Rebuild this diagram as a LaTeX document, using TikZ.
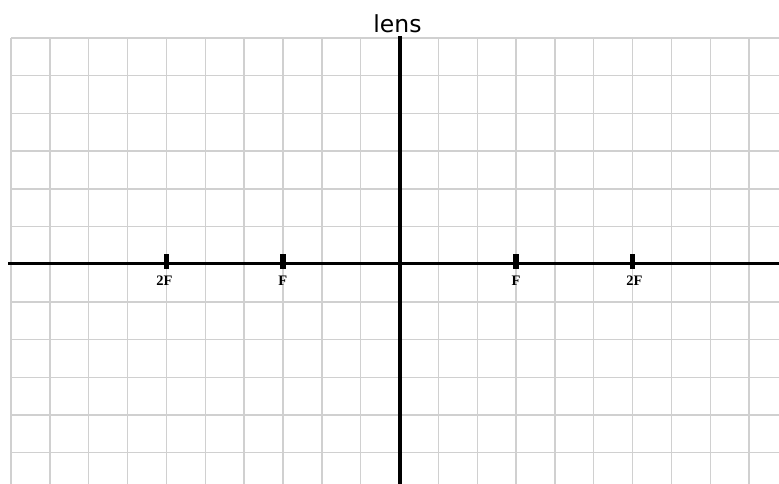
\documentclass[tikz,border=0pt]{standalone}
\usepackage{fontspec}
\setmainfont{Liberation Serif}
\newfontfamily\titlefont{DejaVu Sans}
\definecolor{gridgray}{HTML}{D0D0D0}
\begin{document}
\begin{tikzpicture}[x=1pt,y=-1pt,
  gridline/.style={draw=gridgray,line width=1.4pt},
  axisline/.style={draw=black,line width=3.4pt},
  tickmark/.style={fill=black,inner sep=0pt,minimum width=5.5pt,minimum height=15pt},
  ticklabel/.style={font=\fontsize{14.5}{16}\selectfont\bfseries,inner sep=0pt,anchor=base},
  titlelabel/.style={font=\titlefont\fontsize{23.5}{26}\selectfont,inner sep=0pt,anchor=base}]
\useasboundingbox (0,0) rectangle (779,484);
% grid
\foreach \k in {0,...,19}{
  \draw[gridline] ({11+38.85*\k},38) -- ({11+38.85*\k},484);
}
\foreach \k in {0,...,11}{
  \draw[gridline] (11,{38+37.7*\k}) -- (779,{38+37.7*\k});
}
% axes
\coordinate (xl) at (8,263.5);
\coordinate (xr) at (779,263.5);
\coordinate (yt) at (400,36);
\coordinate (yb) at (400,484);
\draw[axisline] (xl) -- (xr);
\draw[axisline] (yt) -- (yb);
% ticks
\node[tickmark] (t2fl) at (166.4,261) {};
\node[tickmark] (tfl) at (283,261) {};
\node[tickmark] (tfr) at (516,261) {};
\node[tickmark] (t2fr) at (632.6,261) {};
% labels
\node[ticklabel] (l2fl) at (164.5,285) {2F};
\node[ticklabel] (lfl) at (282.7,285) {F};
\node[ticklabel] (lfr) at (516,285) {F};
\node[ticklabel] (l2fr) at (634.5,285) {2F};
% title
\node[titlelabel] (title) at (397.5,32.5) {lens};
\end{tikzpicture}
\end{document}
